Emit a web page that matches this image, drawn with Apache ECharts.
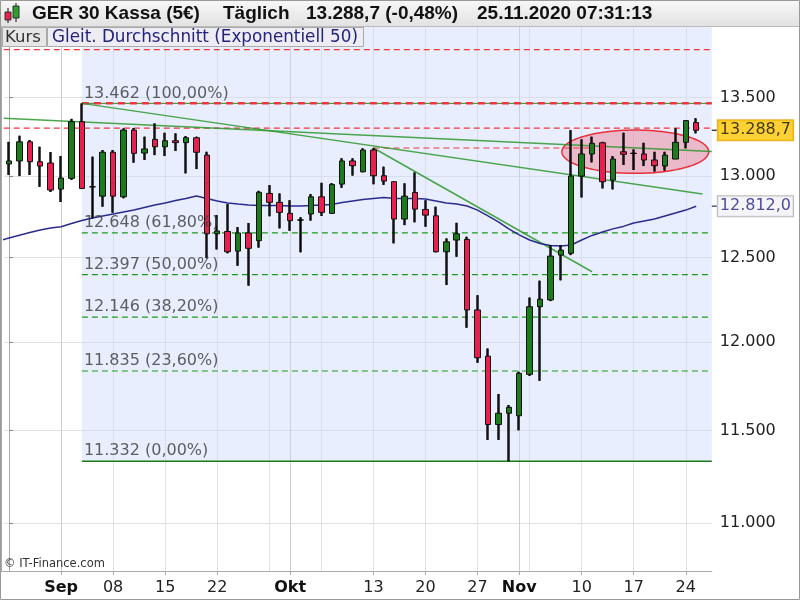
<!DOCTYPE html>
<html><head><meta charset="utf-8">
<script src="https://cdn.jsdelivr.net/npm/echarts@6/dist/echarts.min.js"></script>
<style>html,body{margin:0;padding:0;background:#fff}#c{width:800px;height:600px}</style>
</head><body><div id="c"></div>
<script>
// ---------- data ----------
const dates = ['2020-08-25','2020-08-26','2020-08-27','2020-08-28','2020-08-31',
'2020-09-01','2020-09-02','2020-09-03','2020-09-04','2020-09-07','2020-09-08','2020-09-09','2020-09-10','2020-09-11','2020-09-14','2020-09-15','2020-09-16','2020-09-17','2020-09-18','2020-09-21','2020-09-22','2020-09-23','2020-09-24','2020-09-25','2020-09-28','2020-09-29','2020-09-30',
'2020-10-01','2020-10-02','2020-10-05','2020-10-06','2020-10-07','2020-10-08','2020-10-09','2020-10-12','2020-10-13','2020-10-14','2020-10-15','2020-10-16','2020-10-19','2020-10-20','2020-10-21','2020-10-22','2020-10-23','2020-10-26','2020-10-27','2020-10-28','2020-10-29','2020-10-30',
'2020-11-02','2020-11-03','2020-11-04','2020-11-05','2020-11-06','2020-11-09','2020-11-10','2020-11-11','2020-11-12','2020-11-13','2020-11-16','2020-11-17','2020-11-18','2020-11-19','2020-11-20','2020-11-23','2020-11-24','2020-11-25'];
const extraCategory = '2020-11-26';
const opens = [13075,13094,13215,13089,13081,12918,12985,13344,12932,12874,13149,12870,13290,13144,13231,13184,13222,13210,13241,13131,12643,12657,12538,12648,12601,12891,12836,12768,12727,12764,12870,12768,12949,13094,13026,13163,13001,12964,12733,12897,12792,12753,12534,12605,12609,12188,11920,11534,11597,11583,11816,12207,12247,12514,12525,12999,13138,13209,12974,13152,13142,13138,13100,13062,13106,13212,13338];
const closes = [13094,13215,13089,13062,12912,12987,13344,12922,12932,13149,12874,13290,13142,13170,13184,13222,13210,13241,13149,12643,12660,12534,12648,12555,12898,12836,12774,12723,12727,12870,12774,12947,13094,13064,13163,13001,12968,12733,12874,12794,12757,12534,12594,12643,12188,11911,11534,11597,11630,11822,12207,12251,12508,12544,12999,13138,13206,12964,13106,13136,13142,13100,13064,13131,13212,13351,13288.7];
const lows = [13006,12999,13006,12932,12900,12838,12975,12918,12737,12809,12772,12861,13083,13100,13131,13125,13157,13016,13043,12495,12548,12525,12450,12331,12559,12750,12676,12661,12531,12723,12752,12764,12926,13002,13023,12948,12944,12585,12696,12713,12686,12531,12335,12504,12084,11882,11449,11449,11332,11502,11807,11779,12240,12363,12514,12866,13085,12922,12916,13069,13037,13062,13027,13033,13106,13174,13269];
const highs = [13215,13254,13227,13184,13150,13125,13362,13462,13121,13163,13163,13301,13303,13248,13333,13273,13269,13252,13248,13152,12758,12825,12684,12709,12907,12943,12891,12849,12744,12887,12957,12955,13111,13111,13174,13176,13058,12964,12954,13022,12849,12809,12615,12710,12625,12275,11964,11705,11643,11831,12261,12361,12575,12575,13290,13231,13248,13215,13125,13273,13167,13209,13152,13152,13301,13351,13366];
// EMA 50, starting one session earlier (2020-08-24, just left of the plot edge)
const emaFirstIndex = -1;
const ema50 = [12600,12617,12634,12651,12666,12678,12686,12706,12724,12739,12752,
12764,12776,12788,12804,12819,12832,12847,12859,12875,12859,
12844,12832,12825,12819,12816,12816,12816,12813,12813,12816,
12819,12822,12835,12844,12853,12859,12865,12859,12859,12859,
12856,12844,12832,12825,12813,12788,12752,12716,12673,12636,
12605,12584,12572,12569,12575,12605,12633,12654,12673,12688,
12709,12721,12733,12752,12770,12788,12812.0];

const yTicks = [11000,11500,12000,12500,13000,13500];
const labelDates = ['2020-09-01','2020-09-08','2020-09-15','2020-09-22','2020-10-01','2020-10-13','2020-10-20','2020-10-27','2020-11-02','2020-11-10','2020-11-17','2020-11-24'];
const labelTexts = ['Sep','08','15','22','Okt','13','20','27','Nov','10','17','24'];
const monthDates = ['2020-09-01','2020-10-01','2020-11-02'];

const fibValues = [13462,12648,12397,12146,11835,11332];
const fibTexts = ['13.462 (100,00%)','12.648 (61,80%)','12.397 (50,00%)','12.146 (38,20%)','11.835 (23,60%)','11.332 (0,00%)'];
const fibStartDate = '2020-09-03';
const redLevels = [13815, 13303];
const resistanceValue = 13176;
const resistanceDates = ['2020-10-13','2020-11-11'];
// trend lines: [category position, value]
const trendA = [[-0.5,13366],[67.5,13154]];
const trendB = [[7,13462],[66.6,12888]];
const trendC = [[35,13176],[56,12414]];
const ellipseX = [53.1, 67.2];
const ellipseY = [13016, 13290];

const titleParts = ['GER 30 Kassa (5€)','Täglich','13.288,7 (-0,48%)','25.11.2020 07:31:13'];
const legendTexts = ['Kurs','Gleit. Durchschnitt (Exponentiell 50)'];
const yRange = [10749, 13966];

// ---------- build ----------
const L = Math.log;
const FONT = '"DejaVu Sans", Verdana, sans-serif';
const TFONT = '"Liberation Sans", Arial, sans-serif';
const cats = dates.concat([extraCategory]);
const idx = d => dates.indexOf(d);
const xMin = -0.5, xMax = cats.length - 0.5;
function fmtDE(v, dec){ const s = v.toFixed(dec); const p = s.split('.'); const a = p[0].replace(/\B(?=(\d{3})+(?!\d))/g,'.'); return p[1] ? a + ',' + p[1] : a; }

const candleData = dates.map((d,i)=>[L(opens[i]), L(closes[i]), L(lows[i]), L(highs[i])]);
const emaData = ema50.map((v,i)=>[i + emaFirstIndex, L(v)]);
const tuesdays = dates.map((d,i)=> new Date(d+'T12:00:00Z').getUTCDay()===2 ? i : -1).filter(i=>i>=0);
const monthIdx = monthDates.map(idx);
const labelIdx = labelDates.map(idx);
const fibStart = idx(fibStartDate);
const last = dates.length - 1;

const RED = '#f0363c', GREEN_D = '#1d9a1d', TREND = 'rgba(45,150,45,0.85)';
const lineSeries = [];
function addLine(p1, p2, style, z){
  lineSeries.push({type:'line', xAxisIndex:1, silent:true, symbol:'none', z: z || 3, clip:true,
    data:[[p1[0], L(p1[1])],[p2[0], L(p2[1])]], lineStyle: style});
}
redLevels.forEach(v => addLine([xMin,v],[xMax,v],{color:RED,type:[6,4],width:1.2}));
addLine([idx(resistanceDates[0]),resistanceValue],[idx(resistanceDates[1]),resistanceValue],{color:RED,type:[6,4],width:1.2});
fibValues.forEach((v,k) => {
  let style;
  if (k === 0) style = {color:'#2a8f2a', type:'solid', width:1};
  else if (k === fibValues.length-1) style = {color:'#1a7a1a', type:'solid', width:1.5};
  else style = {color:GREEN_D, type:[6,4], width:1.2};
  addLine([fibStart,v],[xMax,v],style);
});
addLine([fibStart,fibValues[0]],[xMax,fibValues[0]],{color:RED,type:[7,5],width:2.5});
[trendA,trendB,trendC].forEach(t => addLine(t[0],t[1],{color:TREND,type:'solid',width:1.5}));

const fibLabelSeries = {type:'scatter', xAxisIndex:1, silent:true, symbolSize:0, z:7, clip:false,
  data: fibValues.map((v,k)=>({value:[fibStart, L(v)], label:{formatter:fibTexts[k]}})),
  label:{show:true, position:[2,-18], color:'#383838', fontSize:16, fontFamily:FONT, align:'left', verticalAlign:'top'}};

const priceTag = (v, text, tickColor, lbl) => ({type:'scatter', xAxisIndex:1, silent:true, clip:false, z:8,
  symbol:'rect', symbolSize:[5,1.5], symbolOffset:[2.5,0], itemStyle:{color:tickColor},
  data:[[xMax, L(v)]],
  label:Object.assign({show:true, position:'right', distance:1, formatter:text, fontFamily:FONT, fontSize:16,
    borderWidth:1, padding:[3,2,1,2], align:'left', verticalAlign:'middle'}, lbl)});

const option = {
  animation:false,
  backgroundColor:'#fff',
  grid:{left:3.8, top:27, width:708, height:544, containLabel:false, outerBoundsMode:'none'},
  xAxis:[
    {type:'category', data:cats, boundaryGap:true, position:'bottom',
     axisLine:{show:true, lineStyle:{color:'#aaa', width:1}},
     axisTick:{show:true, alignWithLabel:true, interval:(i)=>labelIdx.includes(i), length:4, lineStyle:{color:'#aaa'}},
     axisLabel:{show:true, interval:(i)=>labelIdx.includes(i), hideOverlap:false,
       formatter:(v,i)=>{const t = labelTexts[labelIdx.indexOf(i)]; return /^\d/.test(t) ? t : '{b|'+t+'}';},
       color:'#222', fontFamily:FONT, fontSize:16, margin:9,
       rich:{b:{fontWeight:'bold', fontFamily:FONT, fontSize:16, color:'#111'}}},
     splitLine:{show:false}},
    {type:'value', min:xMin, max:xMax, position:'bottom',
     axisLine:{show:false}, axisLabel:{show:false},
     axisTick:{show:false, customValues:tuesdays},
     splitLine:{show:true, lineStyle:{color:'#e2e2e2', width:1}}},
    {type:'value', min:xMin, max:xMax, position:'top',
     axisLine:{show:false}, axisLabel:{show:false},
     axisTick:{show:false, customValues:monthIdx},
     splitLine:{show:true, lineStyle:{color:'#cdcdcd', width:1}}}
  ],
  yAxis:{type:'value', position:'right', min:L(yRange[0]), max:L(yRange[1]),
    axisLine:{show:true, lineStyle:{color:'#aaa'}},
    axisTick:{show:true, customValues:yTicks.map(L), length:4, lineStyle:{color:'#888'}},
    axisLabel:{customValues:yTicks.map(L), formatter:v=>fmtDE(Math.round(Math.exp(v)),0), color:'#222', fontFamily:FONT, fontSize:16, margin:8},
    splitLine:{show:true, lineStyle:{color:'#e2e2e2'}}},
  series:[
    {type:'line', name:'area', xAxisIndex:1, data:[], z:1, silent:true,
     markArea:{silent:true, itemStyle:{color:'rgba(200,215,250,0.42)'},
       data:[[{coord:[fibStart, L(fibValues[fibValues.length-1])]},{coord:[xMax, L(yRange[1])]}]]}},
    {type:'custom', name:'ellipse', xAxisIndex:1, z:2, silent:true,
     data:[[ellipseX[0], L(ellipseY[0])]],
     renderItem:(params, api)=>{
       const p1 = api.coord([ellipseX[0], L(ellipseY[1])]);
       const p2 = api.coord([ellipseX[1], L(ellipseY[0])]);
       const cx=(p1[0]+p2[0])/2, cy=(p1[1]+p2[1])/2, rx=Math.abs(p2[0]-p1[0])/2, ry=Math.abs(p2[1]-p1[1])/2;
       const pts=[]; for(let k=0;k<120;k++){const a=k/120*2*Math.PI; pts.push([cx+rx*Math.cos(a), cy+ry*Math.sin(a)]);}
       return {type:'polygon', shape:{points:pts}, style:{fill:'rgba(240,80,100,0.33)', stroke:'#e8303a', lineWidth:1.5}};
     }}
  ].concat(lineSeries).concat([
    {type:'line', name:'Gleit. Durchschnitt (Exponentiell 50)', xAxisIndex:1, data:emaData, symbol:'none', z:4, clip:true,
     lineStyle:{color:'#2b2b8e', width:1.5}},
    {type:'candlestick', name:'wicks', xAxisIndex:0, data:candleData, barWidth:1, z:5, silent:true,
     itemStyle:{color:'#000', color0:'#000', borderColor:'#000', borderColor0:'#000', borderColorDoji:'#000', borderWidth:2.4}},
    {type:'candlestick', name:'Kurs', xAxisIndex:0, data:candleData, barWidth:6, z:6, silent:true,
     itemStyle:{color:'#1c7c1c', color0:'#e8204f', borderColor:'#111', borderColor0:'#111', borderColorDoji:'#000', borderWidth:1}},
    fibLabelSeries,
    priceTag(closes[last], fmtDE(closes[last],1), '#111', {color:'#111', backgroundColor:'#fcc600', borderColor:'#d9a000'}),
    priceTag(ema50[ema50.length-1], fmtDE(ema50[ema50.length-1],1), '#23237e', {color:'#23237e', backgroundColor:'#f2f2f8', borderColor:'#aaa'})
  ]),
  graphic:[
    {type:'rect', shape:{x:0,y:0,width:800,height:26}, style:{fill:new echarts.graphic.LinearGradient(0,0,0,1,[{offset:0,color:'#f8f8f8'},{offset:1,color:'#e2e2e2'}])}, z:10},
    {type:'line', shape:{x1:0,y1:26.5,x2:800,y2:26.5}, style:{stroke:'#bbb', lineWidth:1}, z:10},
    // icon
    {type:'line', shape:{x1:8,y1:8,x2:8,y2:23}, style:{stroke:'#333', lineWidth:1.2}, z:11},
    {type:'rect', shape:{x:5,y:12,width:6,height:8}, style:{fill:'#e8204f', stroke:'#333', lineWidth:1}, z:12},
    {type:'line', shape:{x1:16,y1:3,x2:16,y2:22}, style:{stroke:'#333', lineWidth:1.2}, z:11},
    {type:'rect', shape:{x:13,y:6,width:6,height:12}, style:{fill:'#2ba02b', stroke:'#333', lineWidth:1}, z:12},
    {type:'text', x:32, y:14, style:{text:titleParts[0], font:'bold 19px '+TFONT, fill:'#111', textVerticalAlign:'middle'}, z:12},
    {type:'text', x:223, y:14, style:{text:titleParts[1], font:'bold 19px '+TFONT, fill:'#111', textVerticalAlign:'middle'}, z:12},
    {type:'text', x:306, y:14, style:{text:titleParts[2], font:'bold 19px '+TFONT, fill:'#111', textVerticalAlign:'middle'}, z:12},
    {type:'text', x:477, y:14, style:{text:titleParts[3], font:'bold 19px '+TFONT, fill:'#111', textVerticalAlign:'middle'}, z:12},
    // legend boxes
    {type:'rect', shape:{x:2.5,y:27.5,width:44,height:19}, style:{fill:'#e6e6e6', stroke:'#aaa', lineWidth:1}, z:12},
    {type:'text', x:5, y:37.5, style:{text:legendTexts[0], font:'16.5px '+FONT, fill:'#333', textVerticalAlign:'middle'}, z:13},
    {type:'rect', shape:{x:47.5,y:27.5,width:316,height:19}, style:{fill:'#ececf2', stroke:'#aaa', lineWidth:1}, z:12},
    {type:'text', x:52, y:37.5, style:{text:legendTexts[1], font:'16.8px '+FONT, fill:'#23237e', textVerticalAlign:'middle'}, z:13},
    // frame / copyright
    {type:'line', shape:{x1:1.5,y1:27,x2:1.5,y2:571}, style:{stroke:'#aaa', lineWidth:1}, z:10},
    {type:'line', shape:{x1:0,y1:571.5,x2:4,y2:571.5}, style:{stroke:'#aaa', lineWidth:1}, z:10},
    {type:'rect', shape:{x:0.5,y:0.5,width:799,height:599}, style:{fill:'none', stroke:'#999', lineWidth:1}, z:20},
    {type:'text', x:4, y:564, style:{text:'© IT-Finance.com', font:'11.5px '+FONT, fill:'#333', textVerticalAlign:'middle'}, z:12}
  ]
};
const chart = echarts.init(document.getElementById('c'), null, {renderer:'canvas'});
chart.setOption(option);
</script></body></html>
